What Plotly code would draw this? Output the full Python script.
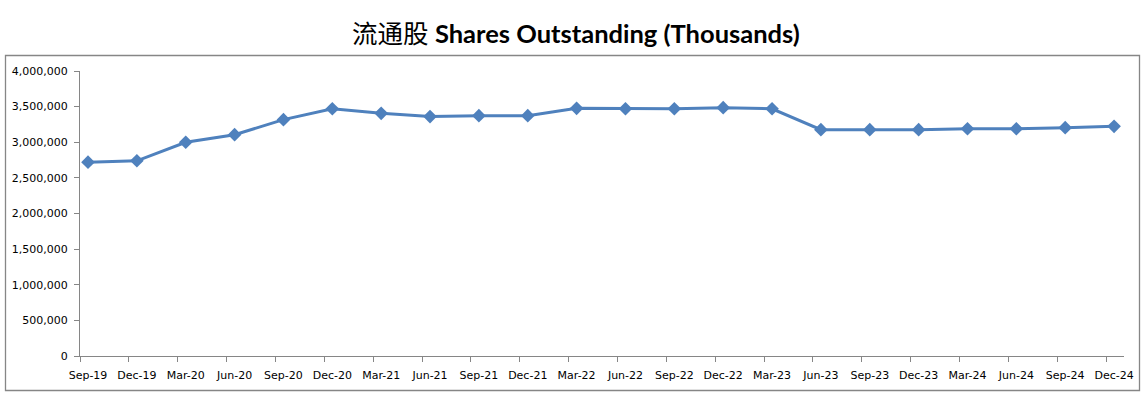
import plotly.graph_objects as go

categories = ["Sep-19", "Dec-19", "Mar-20", "Jun-20", "Sep-20", "Dec-20", "Mar-21", "Jun-21",
              "Sep-21", "Dec-21", "Mar-22", "Jun-22", "Sep-22", "Dec-22", "Mar-23", "Jun-23",
              "Sep-23", "Dec-23", "Mar-24", "Jun-24", "Sep-24", "Dec-24"]
shares = [2720000, 2740000, 3000000, 3106000, 3317000, 3470000, 3406000, 3360000,
          3373000, 3373000, 3476000, 3470000, 3470000, 3485000, 3470000, 3177000,
          3177000, 3177000, 3190000, 3190000, 3205000, 3223000]
y_ticks = [0, 500000, 1000000, 1500000, 2000000, 2500000, 3000000, 3500000, 4000000]

idx = list(range(len(categories)))
tick_offset = -0.164

W, H = 1147, 397
L, R, T, B = 80, 1124, 71, 356
pw, ph = R - L, B - T

fig = go.Figure()
fig.add_trace(go.Scatter(
    x=idx, y=shares, mode="lines+markers",
    line=dict(color="#4F81BD", width=3),
    marker=dict(symbol="diamond", size=10.5, color="#4F81BD"),
    showlegend=False, hoverinfo="skip",
))
# invisible trace on xaxis2 to carry labels
fig.add_trace(go.Scatter(x=idx, y=shares, xaxis="x2", mode="markers",
                         marker=dict(opacity=0), showlegend=False, hoverinfo="skip"))

font_fam = "DejaVu Sans"
axis_col = "#868686"
fig.update_layout(
    width=W, height=H,
    margin=dict(l=L, r=W - R, t=T, b=H - B, pad=0),
    paper_bgcolor="white", plot_bgcolor="white",
    title=dict(text="流通股 <b>Shares Outstanding (Thousands)</b>",
               font=dict(family="Lato, 'Noto Sans CJK SC'", size=25.5, color="black"),
               x=0.502, xanchor="center", y=1 - 34 / H, yanchor="middle"),
    xaxis=dict(range=[tick_offset, tick_offset + pw / 48.86], tickmode="array",
               tickvals=[i + tick_offset for i in idx], ticktext=[""] * len(idx),
               ticks="outside", ticklen=5, tickcolor=axis_col, showline=True,
               linecolor=axis_col, linewidth=1, showgrid=False, zeroline=False),
    xaxis2=dict(overlaying="x", matches="x", side="bottom", tickmode="array",
                tickvals=idx, ticktext=categories, ticks="", showline=False,
                showgrid=False, zeroline=False, ticklabelstandoff=11,
                tickfont=dict(family=font_fam, size=11, color="black")),
    yaxis=dict(range=[0, 4000000], tickmode="array", tickvals=y_ticks,
               ticktext=[f"{v:,}" for v in y_ticks], ticks="outside", ticklen=5,
               tickcolor=axis_col, showline=True, linecolor=axis_col, linewidth=1,
               showgrid=False, zeroline=False, ticklabelstandoff=4,
               tickfont=dict(family=font_fam, size=11, color="black")),
    shapes=[dict(type="rect", xref="paper", yref="paper",
                 x0=(5.5 - L) / pw, x1=(1139.5 - L) / pw,
                 y0=(B - 390.5) / ph, y1=(B - 55.5) / ph,
                 line=dict(color="#868686", width=1.3), fillcolor="rgba(0,0,0,0)")],
)
fig.write_html("out.html", config={"displayModeBar": False},
               post_script="document.body.style.margin='0';document.body.style.overflow='hidden';")
